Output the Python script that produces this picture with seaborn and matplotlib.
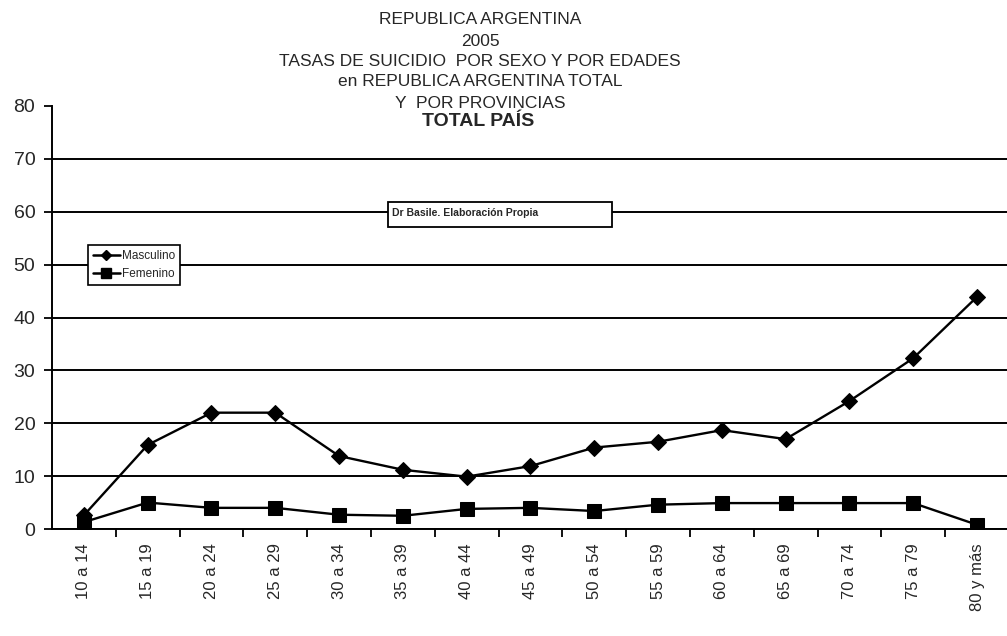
import pandas as pd
import matplotlib.pyplot as plt
import matplotlib.patches as mpatches
from matplotlib.lines import Line2D
import seaborn as sns
import numpy as np

sns.set_style('white')
plt.rcParams['font.family'] = ['Liberation Sans', 'DejaVu Sans']

# Data
edades = ['10 a 14', '15 a 19', '20 a 24', '25 a 29', '30 a 34', '35 a 39', '40 a 44',
          '45 a 49', '50 a 54', '55 a 59', '60 a 64', '65 a 69', '70 a 74', '75 a 79',
          '80 y más']
masculino = [2.6, 15.9, 22.0, 22.0, 13.8, 11.2, 9.9, 11.9, 15.4, 16.5, 18.7, 17.0, 24.2, 32.3, 43.9]
femenino = [1.3, 5.0, 4.0, 4.0, 2.7, 2.5, 3.8, 4.0, 3.4, 4.6, 4.9, 4.9, 4.9, 4.9, 0.8]
y_ticks = [0, 10, 20, 30, 40, 50, 60, 70, 80]

titulo = ['REPUBLICA ARGENTINA', '2005', 'TASAS DE SUICIDIO  POR SEXO Y POR EDADES',
          'en REPUBLICA ARGENTINA TOTAL', 'Y  POR PROVINCIAS']
subtitulo = 'TOTAL PAÍS'
nota = 'Dr Basile. Elaboración Propia'

df = pd.DataFrame({'pos': np.arange(len(edades)), 'edad': edades,
                   'Masculino': masculino, 'Femenino': femenino})

fig = plt.figure(figsize=(10.07, 6.36), dpi=100)
fig.patch.set_facecolor('white')
ax = fig.add_axes([52 / 1007, 1 - 529 / 636, 955 / 1007, 423 / 636])

sns.lineplot(data=df, x='pos', y='Masculino', ax=ax, color='black', lw=1.7,
             marker='D', markersize=8.5, markeredgecolor='black', label='Masculino')
sns.lineplot(data=df, x='pos', y='Femenino', ax=ax, color='black', lw=1.7,
             marker='s', markersize=10.5, markeredgecolor='black', label='Femenino')

ax.set_xlim(-0.5, 14.47)
ax.set_ylim(0, 80)
ax.set_yticks(y_ticks)
ax.set_yticklabels([str(t) for t in y_ticks], fontsize=14)
ax.set_xticks(df['pos'])
ax.set_xticklabels(edades, rotation=90, fontsize=12)
ax.set_xticks(df['pos'][:-1] + 0.5, minor=True)
ax.tick_params(axis='x', which='major', length=0, pad=10)
ax.tick_params(axis='x', which='minor', length=6, width=1.3, color='black', direction='out', bottom=True)
ax.tick_params(axis='y', length=6, width=1.3, color='black', direction='out', left=True, pad=6)
ax.set_xlabel('')
ax.set_ylabel('')

ax.grid(True, axis='y', color='black', lw=1.4)
ax.grid(False, axis='x')
# no gridline at the top (80)
ax.get_ygridlines()[-1].set_visible(False)
for s in ['top', 'right']:
    ax.spines[s].set_visible(False)
for s in ['left', 'bottom']:
    ax.spines[s].set_color('black')
    ax.spines[s].set_linewidth(1.4)

# Legend box
handles = [Line2D([], [], color='black', lw=1.8, marker='D', markersize=5),
           Line2D([], [], color='black', lw=1.8, marker='s', markersize=7)]
leg = ax.legend(handles, ['Masculino', 'Femenino'], loc='upper left',
                bbox_to_anchor=(36 / 955, (529 - 245) / 423), fontsize=8.5,
                frameon=True, fancybox=False, borderpad=0.4, handlelength=2.3,
                handletextpad=0.2, labelspacing=0.55, borderaxespad=0)
leg.get_frame().set_edgecolor('black')
leg.get_frame().set_linewidth(1.2)
leg.get_frame().set_alpha(1)

# Source note box
ax.add_patch(mpatches.Rectangle(((388 - 52) / 955, (529 - 227) / 423), 224 / 955, 25 / 423,
                                transform=ax.transAxes, facecolor='white', edgecolor='black',
                                lw=1.3, zorder=5))
ax.text((392 - 52) / 955, (529 - 213) / 423, nota, transform=ax.transAxes, fontsize=7.5,
        fontweight='bold', va='center', ha='left', zorder=6)

# Title lines
for linea, yc in zip(titulo, [20, 42, 61, 82, 104]):
    fig.text(480 / 1007, 1 - yc / 636, linea, ha='center', va='center', fontsize=12.5)
fig.text(478 / 1007, 1 - 121 / 636, subtitulo, ha='center', va='center', fontsize=14,
         fontweight='bold')

fig.savefig('out.png', dpi=100, facecolor='white')
plt.close(fig)
